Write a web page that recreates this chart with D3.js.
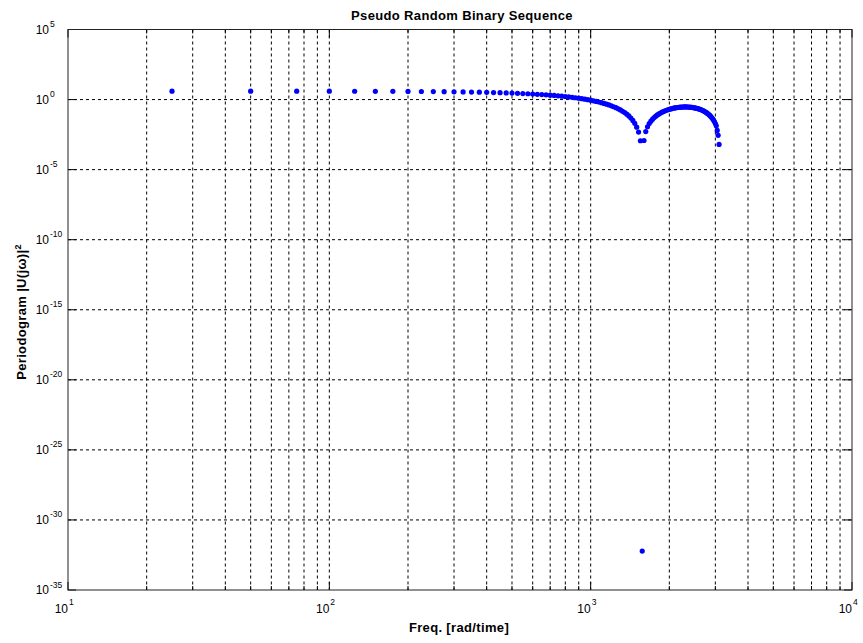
<!DOCTYPE html>
<html>
<head>
<meta charset="utf-8">
<script src="https://cdn.jsdelivr.net/npm/d3@7"></script>
<style>
  html, body { margin: 0; padding: 0; background: #fff; }
  svg { display: block; font-family: "Liberation Sans", Arial, Helvetica, sans-serif; }
</style>
</head>
<body>
<svg id="chart" width="863" height="643"></svg>
<script>
// Periodogram of a pseudo random binary sequence, frequency grid in rad/time
const frequencies = [
  25, 50, 75, 100, 125, 150, 175, 200, 225, 250,
  275, 300, 325, 350, 375, 400, 425, 450, 475, 500,
  525, 550, 575, 600, 625, 650, 675, 700, 725, 750,
  775, 800, 825, 850, 875, 900, 925, 950, 975, 1000,
  1025, 1050, 1075, 1100, 1125, 1150, 1175, 1200, 1225, 1250,
  1275, 1300, 1325, 1350, 1375, 1400, 1425, 1450, 1475, 1500,
  1525, 1550, 1575, 1600, 1625, 1650, 1675, 1700, 1725, 1750,
  1775, 1800, 1825, 1850, 1875, 1900, 1925, 1950, 1975, 2000,
  2025, 2050, 2075, 2100, 2125, 2150, 2175, 2200, 2225, 2250,
  2275, 2300, 2325, 2350, 2375, 2400, 2425, 2450, 2475, 2500,
  2525, 2550, 2575, 2600, 2625, 2650, 2675, 2700, 2725, 2750,
  2775, 2800, 2825, 2850, 2875, 2900, 2925, 2950, 2975, 3000,
  3025, 3050, 3075, 3100
];

// |U(jw)|^2 at each frequency
const periodogram = [
  4.00, 3.99, 3.97, 3.95, 3.92, 3.89, 3.85, 3.80, 3.75, 3.70,
  3.64, 3.57, 3.50, 3.42, 3.34, 3.26, 3.17, 3.08, 2.99, 2.89,
  2.79, 2.69, 2.59, 2.49, 2.38, 2.28, 2.17, 2.06, 1.96, 1.85,
  1.75, 1.65, 1.55, 1.45, 1.35, 1.25, 1.16, 1.07, 0.983, 0.899,
  0.819, 0.742, 0.668, 0.598, 0.532, 0.470, 0.412, 0.358, 0.308, 0.262,
  0.219, 0.181, 0.147, 0.117, 0.0904, 0.0676, 0.0483, 0.0325, 0.0200, 0.0107,
  0.0048, 0.00115, 6e-33, 0.00120, 0.0052, 0.0115, 0.0194, 0.0289, 0.0399, 0.0522,
  0.0656, 0.0798, 0.0947, 0.110, 0.126, 0.141, 0.157, 0.173, 0.188, 0.202,
  0.216, 0.229, 0.241, 0.252, 0.262, 0.271, 0.279, 0.285, 0.290, 0.293,
  0.296, 0.296, 0.296, 0.294, 0.290, 0.286, 0.280, 0.273, 0.264, 0.255,
  0.245, 0.234, 0.222, 0.210, 0.197, 0.184, 0.171, 0.157, 0.143, 0.129,
  0.116, 0.103, 0.0898, 0.0775, 0.0657, 0.0548, 0.0446, 0.0353, 0.0269, 0.0196,
  0.0134, 0.0063, 0.0028, 0.00063
];

// Axis ticks (decade exponents)
const xTickExponents = [1, 2, 3, 4];
const yTickExponents = [5, 0, -5, -10, -15, -20, -25, -30, -35];

const titleText = "Pseudo Random Binary Sequence";
const xLabelText = "Freq. [rad/time]";

const svg = d3.select("#chart");
const plot = { left: 68, right: 852, top: 29.5, bottom: 590 };

const x = d3.scaleLog().domain([10, 1e4]).range([plot.left, plot.right]);
const y = d3.scaleLog().domain([1e-35, 1e5]).range([plot.bottom, plot.top]);

// Minor x positions: 2..9 times each decade
const xMinor = [];
[10, 100, 1000].forEach(d => { for (let m = 2; m <= 9; m++) xMinor.push(d * m); });
const xMajor = xTickExponents.map(e => Math.pow(10, e));
const yMajor = yTickExponents.map(e => Math.pow(10, e));

const grid = svg.append("g").attr("class", "grid")
  .attr("stroke", "#000").attr("stroke-width", 1).attr("stroke-dasharray", "3,3").attr("fill", "none");

grid.selectAll("line.vx").data(xMajor.concat(xMinor).filter(v => v > 10 && v < 1e4))
  .join("line").attr("class", "vx")
  .attr("x1", d => x(d)).attr("x2", d => x(d))
  .attr("y1", plot.top).attr("y2", plot.bottom);

grid.selectAll("line.hy").data(yMajor.filter(v => v > 1e-35 && v < 1e5))
  .join("line").attr("class", "hy")
  .attr("x1", plot.left).attr("x2", plot.right)
  .attr("y1", d => y(d)).attr("y2", d => y(d));

// Tick marks on all four sides, pointing inward
const ticks = svg.append("g").attr("stroke", "#000").attr("stroke-width", 1);
const majorLen = 8, minorLen = 4;
xMajor.forEach(v => {
  ticks.append("line").attr("x1", x(v)).attr("x2", x(v)).attr("y1", plot.bottom).attr("y2", plot.bottom - majorLen);
  ticks.append("line").attr("x1", x(v)).attr("x2", x(v)).attr("y1", plot.top).attr("y2", plot.top + majorLen);
});
xMinor.forEach(v => {
  ticks.append("line").attr("x1", x(v)).attr("x2", x(v)).attr("y1", plot.bottom).attr("y2", plot.bottom - minorLen);
  ticks.append("line").attr("x1", x(v)).attr("x2", x(v)).attr("y1", plot.top).attr("y2", plot.top + minorLen);
});
yMajor.forEach(v => {
  ticks.append("line").attr("y1", y(v)).attr("y2", y(v)).attr("x1", plot.left).attr("x2", plot.left + majorLen);
  ticks.append("line").attr("y1", y(v)).attr("y2", y(v)).attr("x1", plot.right).attr("x2", plot.right - majorLen);
});

// Axes box
svg.append("rect")
  .attr("x", plot.left).attr("y", plot.top)
  .attr("width", plot.right - plot.left).attr("height", plot.bottom - plot.top)
  .attr("fill", "none").attr("stroke", "#222").attr("stroke-width", 1);

// Data points
svg.append("g").selectAll("circle")
  .data(frequencies.map((f, i) => ({ f, p: periodogram[i] })))
  .join("circle")
  .attr("cx", d => x(d.f))
  .attr("cy", d => y(d.p))
  .attr("r", 2.6)
  .attr("fill", "#0000ff");

// Tick labels as 10 with superscript exponent
const tickFont = 12, expFont = 8.5;
const xl = svg.append("g").attr("fill", "#000");
xTickExponents.forEach(e => {
  const px = x(Math.pow(10, e));
  xl.append("text").attr("x", px).attr("y", 613).attr("text-anchor", "end")
    .attr("font-size", tickFont).text("10");
  xl.append("text").attr("x", px + 1).attr("y", 605).attr("text-anchor", "start")
    .attr("font-size", expFont).text(String(e));
});
const yl = svg.append("g").attr("fill", "#000");
yTickExponents.forEach(e => {
  const py = y(Math.pow(10, e));
  yl.append("text").attr("x", 49).attr("y", py + 4).attr("text-anchor", "end")
    .attr("font-size", tickFont).text("10");
  yl.append("text").attr("x", 50).attr("y", py - 2.5).attr("text-anchor", "start")
    .attr("font-size", expFont).text(String(e));
});

// Title and axis labels
const labelSpacing = 0.35;
svg.append("text").attr("x", 462).attr("y", 20).attr("text-anchor", "middle")
  .attr("font-size", 13).attr("font-weight", "bold").attr("letter-spacing", labelSpacing)
  .text(titleText);

svg.append("text").attr("x", 459).attr("y", 632).attr("text-anchor", "middle")
  .attr("font-size", 13).attr("font-weight", "bold").attr("letter-spacing", labelSpacing)
  .text(xLabelText);

const ylab = svg.append("text")
  .attr("transform", "translate(26,312) rotate(-90)")
  .attr("text-anchor", "middle").attr("font-size", 13).attr("font-weight", "bold")
  .attr("letter-spacing", labelSpacing);
ylab.append("tspan").text("Periodogram |U(j\u03c9)|");
ylab.append("tspan").attr("font-size", 9).attr("dy", -5).text("2");
</script>
</body>
</html>
